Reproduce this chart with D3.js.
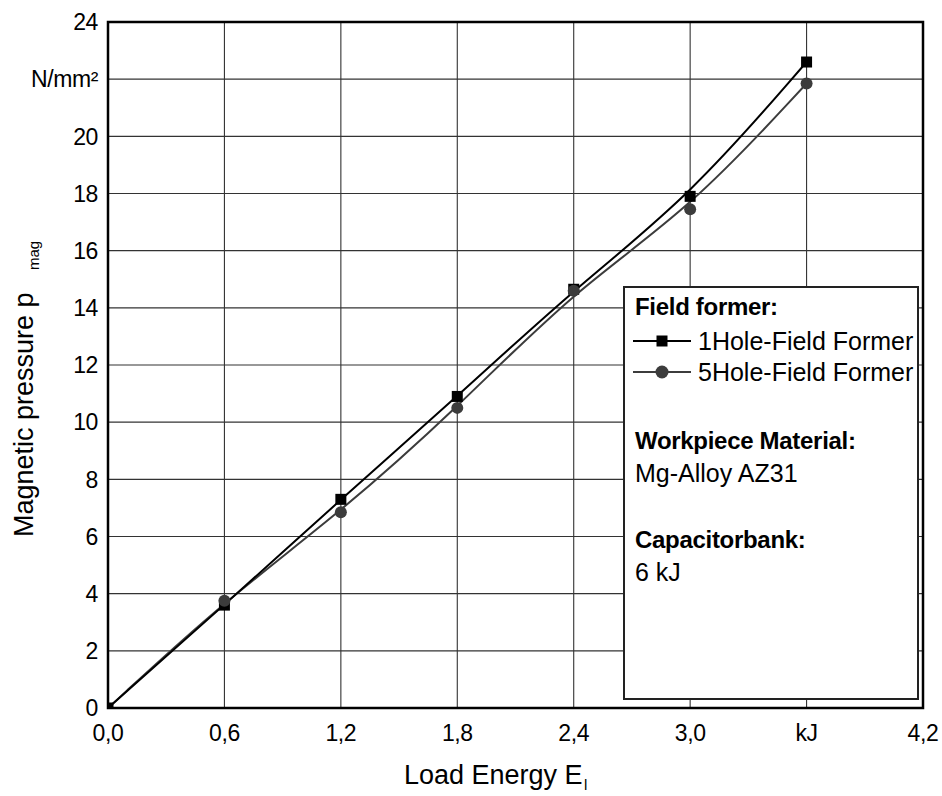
<!DOCTYPE html>
<html>
<head>
<meta charset="utf-8">
<script src="https://cdn.jsdelivr.net/npm/d3@7/dist/d3.min.js"></script>
<style>
  html, body { margin: 0; padding: 0; background: #fff; }
  svg text { font-family: "Liberation Sans", Arial, sans-serif; fill: #000; }
</style>
</head>
<body>
<svg id="chart" width="942" height="796"></svg>
<script>
// ---- data ----
const energy = [0, 0.6, 1.2, 1.8, 2.4, 3.0, 3.6];
const hole1 = [0, 3.6, 7.3, 10.9, 14.65, 17.9, 22.6];
const hole5 = [0, 3.75, 6.85, 10.5, 14.6, 17.45, 21.85];
const xTickValues = [0, 0.6, 1.2, 1.8, 2.4, 3.0, 3.6, 4.2];
const xTickLabels = ["0,0", "0,6", "1,2", "1,8", "2,4", "3,0", "kJ", "4,2"];
const yTickValues = [0, 2, 4, 6, 8, 10, 12, 14, 16, 18, 20, 22, 24];
const yTickLabels = ["0", "2", "4", "6", "8", "10", "12", "14", "16", "18", "20", "N/mm²", "24"];
const seriesNames = ["1Hole-Field Former", "5Hole-Field Former"];

const svg = d3.select("#chart");
const L = 108, R = 923, T = 22, B = 708;
const x = d3.scaleLinear().domain([0, 4.2]).range([L, R]);
const y = d3.scaleLinear().domain([0, 24]).range([B, T]);

function ctext(px, py, str, size, anchor, opts = {}) {
  const g = svg.append("g").attr("transform", `translate(${px},${py})` + (opts.rotate ? ` rotate(${opts.rotate})` : ""));
  const t = g.append("text").attr("x", 0).attr("y", 0).attr("font-size", size)
    .attr("text-anchor", anchor).text(str);
  if (opts.bold) t.attr("font-weight", "bold");
  if (opts.dy) t.attr("dy", opts.dy);
  if (opts.ls) t.attr("letter-spacing", opts.ls);
  return t;
}

svg.append("defs").append("clipPath").attr("id", "plotclip")
  .append("rect").attr("x", L).attr("y", T).attr("width", R - L).attr("height", B - T);

// gridlines
const grid = svg.append("g");
grid.selectAll("line.h").data(yTickValues.slice(1, -1)).join("line")
  .attr("x1", L).attr("x2", R).attr("y1", d => y(d)).attr("y2", d => y(d))
  .attr("stroke", "#333").attr("stroke-width", 1.1);
grid.selectAll("line.v").data(xTickValues.slice(1, -1)).join("line")
  .attr("y1", T).attr("y2", B).attr("x1", d => x(d)).attr("x2", d => x(d))
  .attr("stroke", "#333").attr("stroke-width", 1.1);

// tick labels
xTickValues.forEach((v, i) => ctext(x(v), 741, xTickLabels[i], 23, "middle", { ls: "-0.4px" }));
yTickValues.forEach((v, i) => ctext(98, y(v), yTickLabels[i], 23, "end", { dy: "0.36em", ls: "-0.4px" }));

// legend box
const box = { x: 624, y: 287, w: 294, h: 412 };
svg.append("rect").attr("x", box.x).attr("y", box.y).attr("width", box.w).attr("height", box.h)
  .attr("fill", "#fff").attr("stroke", "#222").attr("stroke-width", 2);

// curves
const line = d3.line().x(d => x(d[0])).y(d => y(d[1])).curve(d3.curveBasis);
const d1 = energy.map((e, i) => [e, hole1[i]]);
const d5 = energy.map((e, i) => [e, hole5[i]]);
const plot = svg.append("g").attr("clip-path", "url(#plotclip)");
plot.append("path").attr("d", line(d5)).attr("fill", "none").attr("stroke", "#3c3c3c").attr("stroke-width", 2);
plot.append("path").attr("d", line(d1)).attr("fill", "none").attr("stroke", "#000").attr("stroke-width", 2);
const sq = 11;
plot.selectAll("rect.m1").data(d1).join("rect")
  .attr("x", d => x(d[0]) - sq / 2).attr("y", d => y(d[1]) - sq / 2)
  .attr("width", sq).attr("height", sq).attr("fill", "#000");
plot.selectAll("circle.m5").data(d5.slice(1)).join("circle")
  .attr("cx", d => x(d[0])).attr("cy", d => y(d[1])).attr("r", 6).attr("fill", "#3c3c3c");

// frame
svg.append("rect").attr("x", L).attr("y", T).attr("width", R - L).attr("height", B - T)
  .attr("fill", "none").attr("stroke", "#000").attr("stroke-width", 2.5);

// legend contents
ctext(635, 315, "Field former:", 24, "start", { bold: true, ls: "-0.3px" });
const rows = [341, 372];
rows.forEach((ry, i) => {
  svg.append("line").attr("x1", 633).attr("x2", 691).attr("y1", ry).attr("y2", ry)
    .attr("stroke", i === 0 ? "#000" : "#3c3c3c").attr("stroke-width", 2);
  if (i === 0) {
    svg.append("rect").attr("x", 662 - sq / 2).attr("y", ry - sq / 2).attr("width", sq).attr("height", sq).attr("fill", "#000");
  } else {
    svg.append("circle").attr("cx", 662).attr("cy", ry).attr("r", 6.5).attr("fill", "#3c3c3c");
  }
  ctext(698, ry + 9, seriesNames[i], 25, "start");
});
ctext(635, 449, "Workpiece Material:", 24, "start", { bold: true, ls: "-0.3px" });
ctext(635, 482, "Mg-Alloy AZ31", 25, "start");
ctext(635, 548, "Capacitorbank:", 24, "start", { bold: true, ls: "-0.3px" });
ctext(635, 581, "6 kJ", 25, "start");

// axis titles
ctext(33, 537, "Magnetic pressure p", 27, "start", { rotate: -90 });
ctext(39, 270, "mag", 15, "start", { rotate: -90 });
ctext(404, 784, "Load Energy E", 27, "start");
ctext(584, 790, "l", 15, "start");
</script>
</body>
</html>
